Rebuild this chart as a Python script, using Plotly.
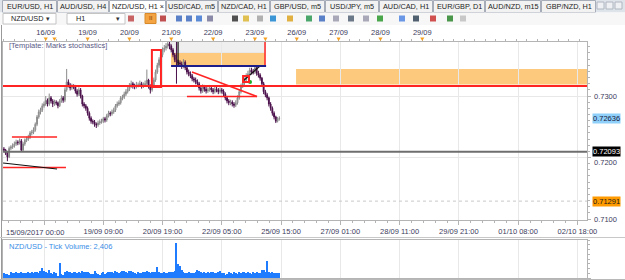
import plotly.graph_objects as go

W, H = 625, 280

# ---------------- data ----------------
bars = list(range(159))
opens = [0.7214,0.7212,0.7207,0.7201,0.7215,0.7217,0.7219,0.7222,0.7225,0.7224,
0.7227,0.7212,0.7222,0.7228,0.7230,0.7233,0.7240,0.7241,0.7245,0.7254,
0.7266,0.7274,0.7277,0.7284,0.7287,0.7293,0.7287,0.7297,0.7292,0.7287,
0.7290,0.7289,0.7284,0.7292,0.7297,0.7293,0.7310,0.7323,0.7318,0.7313,
0.7316,0.7315,0.7308,0.7303,0.7310,0.7300,0.7287,0.7284,0.7280,0.7272,
0.7264,0.7259,0.7258,0.7254,0.7253,0.7256,0.7258,0.7259,0.7263,0.7261,
0.7268,0.7272,0.7271,0.7274,0.7277,0.7284,0.7287,0.7289,0.7297,0.7298,
0.7303,0.7307,0.7311,0.7316,0.7320,0.7316,0.7315,0.7318,0.7318,0.7320,
0.7316,0.7318,0.7320,0.7326,0.7316,0.7310,0.7316,0.7326,0.7339,0.7350,
0.7359,0.7367,0.7375,0.7378,0.7381,0.7385,0.7381,0.7375,0.7367,0.7359,
0.7355,0.7354,0.7352,0.7349,0.7355,0.7346,0.7339,0.7336,0.7333,0.7328,
0.7326,0.7323,0.7320,0.7313,0.7308,0.7315,0.7311,0.7308,0.7310,0.7313,
0.7310,0.7307,0.7311,0.7310,0.7307,0.7310,0.7308,0.7303,0.7297,0.7292,
0.7289,0.7290,0.7287,0.7285,0.7289,0.7297,0.7307,0.7316,0.7321,0.7326,
0.7333,0.7336,0.7342,0.7339,0.7339,0.7346,0.7337,0.7334,0.7329,0.7320,
0.7307,0.7302,0.7297,0.7287,0.7280,0.7272,0.7266,0.7259,0.7263]
closes = [0.7212,0.7207,0.7201,0.7215,0.7217,0.7219,0.7222,0.7225,0.7224,0.7227,
0.7212,0.7222,0.7228,0.7230,0.7233,0.7240,0.7241,0.7245,0.7254,0.7266,
0.7274,0.7277,0.7284,0.7287,0.7293,0.7287,0.7297,0.7292,0.7287,0.7290,
0.7289,0.7284,0.7292,0.7297,0.7293,0.7310,0.7323,0.7318,0.7313,0.7316,
0.7315,0.7308,0.7303,0.7310,0.7300,0.7287,0.7284,0.7280,0.7272,0.7264,
0.7259,0.7258,0.7254,0.7253,0.7256,0.7258,0.7259,0.7263,0.7261,0.7268,
0.7272,0.7271,0.7274,0.7277,0.7284,0.7287,0.7289,0.7297,0.7298,0.7303,
0.7307,0.7311,0.7316,0.7320,0.7316,0.7315,0.7318,0.7318,0.7320,0.7316,
0.7318,0.7320,0.7326,0.7316,0.7310,0.7316,0.7326,0.7339,0.7350,0.7359,
0.7367,0.7375,0.7378,0.7381,0.7385,0.7381,0.7375,0.7367,0.7359,0.7355,
0.7354,0.7352,0.7349,0.7355,0.7346,0.7339,0.7336,0.7333,0.7328,0.7326,
0.7323,0.7320,0.7313,0.7308,0.7315,0.7311,0.7308,0.7310,0.7313,0.7310,
0.7307,0.7311,0.7310,0.7307,0.7310,0.7308,0.7303,0.7297,0.7292,0.7289,
0.7290,0.7287,0.7285,0.7289,0.7297,0.7307,0.7316,0.7321,0.7326,0.7333,
0.7336,0.7342,0.7339,0.7339,0.7346,0.7337,0.7334,0.7329,0.7320,0.7307,
0.7302,0.7297,0.7287,0.7280,0.7272,0.7266,0.7259,0.7263,0.72636]
highs = [0.7217,0.7214,0.7209,0.7218,0.7220,0.7223,0.7226,0.7229,0.7228,0.7231,
0.7230,0.7225,0.7231,0.7234,0.7237,0.7243,0.7245,0.7249,0.7257,0.7269,
0.7278,0.7281,0.7288,0.7291,0.7300,0.7296,0.7304,0.7300,0.7295,0.7294,
0.7293,0.7291,0.7295,0.7301,0.7300,0.7314,0.7344,0.7327,0.7321,0.7320,
0.7319,0.7318,0.7311,0.7314,0.7313,0.7302,0.7290,0.7287,0.7283,0.7275,
0.7267,0.7262,0.7261,0.7257,0.7260,0.7262,0.7263,0.7266,0.7266,0.7271,
0.7276,0.7275,0.7278,0.7281,0.7287,0.7291,0.7293,0.7300,0.7302,0.7307,
0.7311,0.7315,0.7321,0.7325,0.7323,0.7320,0.7323,0.7322,0.7325,0.7323,
0.7322,0.7325,0.7343,0.7328,0.7319,0.7320,0.7330,0.7343,0.7354,0.7363,
0.7371,0.7379,0.7383,0.7386,0.7392,0.7389,0.7384,0.7378,0.7370,0.7388,
0.7359,0.7358,0.7356,0.7360,0.7358,0.7349,0.7343,0.7340,0.7336,0.7331,
0.7330,0.7327,0.7323,0.7316,0.7319,0.7318,0.7315,0.7314,0.7318,0.7316,
0.7313,0.7316,0.7315,0.7313,0.7314,0.7313,0.7311,0.7306,0.7300,0.7295,
0.7294,0.7293,0.7290,0.7293,0.7301,0.7311,0.7320,0.7326,0.7330,0.7337,
0.7341,0.7346,0.7346,0.7344,0.7349,0.7348,0.7341,0.7337,0.7331,0.7323,
0.7310,0.7305,0.7299,0.7290,0.7283,0.7275,0.7268,0.7266,0.7267]
lows = [0.7209,0.7204,0.7194,0.7199,0.7212,0.7214,0.7216,0.7219,0.7220,0.7221,
0.7209,0.7210,0.7219,0.7225,0.7227,0.7230,0.7236,0.7238,0.7242,0.7251,
0.7263,0.7270,0.7274,0.7281,0.7284,0.7283,0.7284,0.7288,0.7282,0.7284,
0.7285,0.7280,0.7282,0.7289,0.7289,0.7290,0.7307,0.7314,0.7309,0.7310,
0.7311,0.7304,0.7299,0.7300,0.7296,0.7283,0.7280,0.7276,0.7268,0.7260,
0.7255,0.7254,0.7250,0.7248,0.7250,0.7253,0.7255,0.7256,0.7257,0.7258,
0.7265,0.7267,0.7268,0.7271,0.7274,0.7281,0.7284,0.7286,0.7293,0.7295,
0.7300,0.7304,0.7308,0.7313,0.7312,0.7311,0.7312,0.7314,0.7315,0.7312,
0.7313,0.7315,0.7317,0.7312,0.7304,0.7307,0.7313,0.7323,0.7336,0.7346,
0.7355,0.7363,0.7371,0.7374,0.7377,0.7376,0.7371,0.7363,0.7355,0.7320,
0.7349,0.7347,0.7344,0.7345,0.7342,0.7335,0.7332,0.7329,0.7324,0.7322,
0.7319,0.7316,0.7309,0.7304,0.7305,0.7307,0.7304,0.7305,0.7307,0.7306,
0.7303,0.7304,0.7306,0.7303,0.7304,0.7304,0.7299,0.7293,0.7288,0.7285,
0.7285,0.7283,0.7281,0.7282,0.7286,0.7294,0.7304,0.7313,0.7318,0.7323,
0.7330,0.7333,0.7335,0.7335,0.7336,0.7333,0.7330,0.7325,0.7316,0.7303,
0.7298,0.7293,0.7283,0.7276,0.7268,0.7262,0.7256,0.7257,0.7260]
volumes = [2600,2100,1900,1500,3100,2800,2600,2900,2700,2400,
3300,2700,2500,2800,3000,2600,2900,2700,3400,3100,
2800,3600,5200,3900,3000,2600,4100,2700,2300,3000,
2500,1300,7900,2200,1800,3300,3600,2900,3100,2800,
3000,3400,2700,3100,2600,3800,3200,2900,3300,2500,
2200,1900,3600,2400,2100,1500,2600,3000,2300,2700,
2900,3200,3000,2500,3600,3400,2800,3100,3900,3700,
3300,2400,3800,3500,3000,2600,2300,3100,2800,2500,
2900,3200,3600,3000,2700,3400,3100,3300,5800,3000,
2700,2600,3100,2800,2400,3000,3200,2900,3600,18500,
7400,6100,4300,3200,2800,2600,3000,2500,2400,2700,
3100,4100,3600,2900,2500,3000,2700,3300,2600,2900,
3200,2800,2500,3100,3500,2700,2400,1400,1900,3300,
2600,2300,2900,2500,2100,3000,2700,3300,3100,2800,
3400,2500,2200,3000,2700,2900,2400,2600,4200,4300,
3100,9000,2900,2500,3100,2700,2600,2400,2406]

price_ticks = [0.71, 0.72, 0.73]
price_tick_text = ["0.7100", "0.7200", "0.7300"]
time_ticks = [23, 57, 91, 125, 159, 193, 227, 261, 295, 329]
time_tick_text = ["", "19/09 09:00", "20/09 19:00", "22/09 05:00", "25/09 15:00",
                  "27/09 01:00", "28/09 11:00", "29/09 21:00", "01/10 08:00", "02/10 18:00"]
first_time_label = "15/09/2017 00:00"
day_ticks = [24, 48, 72, 96, 120, 144, 168, 192, 216, 240]
day_labels = ["16/09", "19/09", "20/09", "21/09", "22/09", "23/09", "26/09", "27/09", "28/09", "29/09"]
day_markers = [24, 29, 48, 72, 96, 120, 144, 150, 168, 192, 216, 240]

red_level = 0.73163
gray_level = 0.72093
dotted_level = 0.71291
bid_price = 0.72636
# drawings: (bar0, price0, bar1, price1)
red_segments = [(4.6, 0.72333, 30.5, 0.72333), (-0.5, 0.71837, 35.6, 0.71837),
                (105.0, 0.72992, 145.2, 0.72992), (107.9, 0.73390, 145.2, 0.72992),
                (149.8, 0.7390, 149.8, 0.73488)]
black_segments = [(-0.5, 0.71911, 30.5, 0.71813), (99.9, 0.7390, 99.9, 0.73488),
                  (137.2, 0.73244, 146.9, 0.73488)]
blue_segment = (95.9, 0.73488, 150.4, 0.73488)
red_boxes = [(84.9, 0.73748, 90.1, 0.73146), (137.2, 0.73325, 140.6, 0.73228)]
gray_zone = (95.9, 0.7390, 149.8, 0.73699)
orange_zones = [(95.9, 0.73699, 149.8, 0.73488), (167.6, 0.73439, 340, 0.73189)]
green_point = (141.2, 0.73228)

volume_title = "NZD/USD - Tick Volume: 2,406"
template_text = "[Template: Marks stochastics]"
tabs = [("EUR/USD, H1", 2, 57), ("AUD/USD, H4", 57, 109), ("NZD/USD, H1 ×", 109, 166),
        ("USD/CAD, m5", 166, 218), ("NZD/CAD, H1", 218, 270), ("GBP/USD, m5", 270, 325),
        ("USD/JPY, m5", 325, 379), ("AUD/CAD, H1", 379, 433), ("EUR/GBP, D1", 433, 485),
        ("AUD/NZD, m15", 485, 541), ("GBP/NZD, H1", 541, 596)]

# ---------------- layout helpers ----------------
X0, X1 = -0.52, 334.5
Y0, Y1 = 0.70984, 0.73878
FONT = "Liberation Sans"
AX_COL = "#3c3c5c"


def px(x):
    return x / W


def py(y):
    return 1 - y / H


fig = go.Figure()
fig.add_trace(go.Candlestick(
    x=bars, open=opens, high=highs, low=lows, close=closes,
    increasing=dict(line=dict(color="#8a8a8a", width=1), fillcolor="#d6d6d6"),
    decreasing=dict(line=dict(color="#4a0f4a", width=1), fillcolor="#4a0f4a"),
    whiskerwidth=0, showlegend=False, hoverinfo="skip", xaxis="x", yaxis="y"))
fig.add_trace(go.Scatter(x=day_ticks, y=[closes[0]] * len(day_ticks), xaxis="x2", yaxis="y",
                         mode="markers", marker=dict(opacity=0), showlegend=False, hoverinfo="skip"))
fig.add_trace(go.Scatter(x=[green_point[0]], y=[green_point[1]], mode="markers",
                         marker=dict(color="#22aa22", size=4), showlegend=False, hoverinfo="skip"))
fig.add_trace(go.Bar(x=bars, y=volumes, xaxis="x3", yaxis="y3", width=0.6,
                     marker=dict(color="#1f7cff", line=dict(width=0)), showlegend=False, hoverinfo="skip"))

shapes = []
# chart drawings
x0, y0, x1, y1 = gray_zone
shapes.append(dict(type="rect", xref="x", yref="y", x0=x0, x1=x1, y0=y0, y1=y1,
                   fillcolor="#efefef", line=dict(color="#e0e0e0", width=1), layer="below"))
for (a, b, c, d) in orange_zones:
    shapes.append(dict(type="rect", xref="x", yref="y", x0=a, x1=c, y0=b, y1=d,
                       fillcolor="#fdc97c", line=dict(width=0), layer="below"))
shapes.append(dict(type="line", xref="paper", yref="y", x0=px(3), x1=px(587), y0=red_level, y1=red_level,
                   line=dict(color="#ff2424", width=2)))
shapes.append(dict(type="line", xref="paper", yref="y", x0=px(3), x1=px(587), y0=gray_level, y1=gray_level,
                   line=dict(color="#6e6e6e", width=2)))
shapes.append(dict(type="line", xref="paper", yref="y", x0=px(3), x1=px(587), y0=dotted_level, y1=dotted_level,
                   line=dict(color="#c8c8c8", width=1, dash="dot")))
for (a, b, c, d) in red_segments:
    shapes.append(dict(type="line", xref="x", yref="y", x0=a, y0=b, x1=c, y1=d,
                       line=dict(color="#ff2424", width=1.5)))
for (a, b, c, d) in black_segments:
    shapes.append(dict(type="line", xref="x", yref="y", x0=a, y0=b, x1=c, y1=d,
                       line=dict(color="#111111", width=1.2)))
a, b, c, d = blue_segment
shapes.append(dict(type="line", xref="x", yref="y", x0=a, y0=b, x1=c, y1=d,
                   line=dict(color="#1c1c8a", width=2)))
for (a, b, c, d) in red_boxes:
    shapes.append(dict(type="rect", xref="x", yref="y", x0=a, y0=b, x1=c, y1=d,
                       line=dict(color="#ff2424", width=2)))
# orange day markers on the top time scale
for d in day_markers:
    shapes.append(dict(type="path", xref="x", yref="paper",
                       path=f"M {d - 1.2},{py(37.5)} L {d + 1.2},{py(37.5)} L {d},{py(41)} Z",
                       fillcolor="#f5a020", line=dict(width=0)))

# window chrome
def prect(x0, y0, x1, y1, fill, line=None, lw=1):
    return dict(type="rect", xref="paper", yref="paper", x0=px(x0), x1=px(x1), y0=py(y1), y1=py(y0),
                fillcolor=fill, line=dict(color=line or fill, width=lw if line else 0), layer="below")


shapes.append(prect(0, 0, 625, 12.5, "#dfe4eb"))
for (label, a, b) in tabs:
    fill = "#ffffff" if "×" in label else "#f2f2f2"
    shapes.append(prect(a + 0.5, 0.5, b - 0.5, 12.5, fill, "#a6adb8"))
shapes.append(prect(0, 12.5, 625, 25, "#f7f7f7"))
shapes.append(prect(3, 13.5, 56, 24, "#ffffff", "#c4c4c4"))
shapes.append(prect(67, 13.5, 125, 24, "#ffffff", "#c4c4c4"))
shapes.append(prect(145, 13.5, 156, 23.5, "#f4a442", "#d88a2a"))
icons = [(128, "#c86464"), (160, "#c05050"), (176, "#5a80c8"), (186, "#5a80c8"), (196, "#5a8ad6"),
         (207, "#8a8aa8"), (232, "#505050"), (243, "#e0c050"), (257, "#b0b0b0"), (270, "#3c96d6"),
         (287, "#e0b040"), (306, "#4aa66a"), (319, "#5a80c8"), (333, "#a8a8b8"), (348, "#6a7888"),
         (363, "#a8a8b8"), (377, "#4aa64a"), (399, "#6a96e6"), (413, "#506070"), (430, "#d05050"),
         (447, "#4a964a"), (460, "#c8c8c8")]
for (ix, col) in icons:
    shapes.append(prect(ix, 15.5, ix + 6, 21.5, col))
for bx in (597, 606, 615):
    shapes.append(prect(bx, 2, bx + 7, 9, "#eef0f3", "#b0b6c0"))
shapes.append(dict(type="line", xref="paper", yref="paper", x0=px(1.5), x1=px(1.5), y0=py(279), y1=py(25),
                   line=dict(color="#9a9a9a", width=1)))
shapes.append(dict(type="line", xref="paper", yref="paper", x0=0, x1=1, y0=py(237.5), y1=py(237.5),
                   line=dict(color="#c8c8c8", width=1)))
shapes.append(dict(type="line", xref="paper", yref="paper", x0=0, x1=1, y0=py(279.5), y1=py(279.5),
                   line=dict(color="#b8b8b8", width=1)))

ann = []
tf = dict(family=FONT, size=7.3, color="#1e1e1e")
for (label, a, b) in tabs:
    ann.append(dict(text=label, x=px((a + b) / 2), y=py(6.5), xref="paper", yref="paper",
                    showarrow=False, font=tf, xanchor="center", yanchor="middle"))
ann.append(dict(text="NZD/USD", x=px(9), y=py(18.8), xref="paper", yref="paper", showarrow=False,
                font=tf, xanchor="left", yanchor="middle"))
ann.append(dict(text="H1", x=px(74), y=py(18.8), xref="paper", yref="paper", showarrow=False,
                font=tf, xanchor="left", yanchor="middle"))
for ax_ in (48, 118):
    ann.append(dict(text="▾", x=px(ax_), y=py(18.8), xref="paper", yref="paper", showarrow=False,
                    font=dict(family="DejaVu Sans", size=7, color="#333333"), xanchor="center", yanchor="middle"))
ann.append(dict(text="II", x=px(150.5), y=py(18.5), xref="paper", yref="paper", showarrow=False,
                font=dict(family=FONT, size=6, color="#7a3a00"), xanchor="center", yanchor="middle"))
ann.append(dict(text=template_text, x=px(7), y=py(46), xref="paper", yref="paper", showarrow=False,
                font=dict(family=FONT, size=7.5, color="#5a5a86"), xanchor="left", yanchor="middle"))
ann.append(dict(text=first_time_label, x=px(4), y=py(232), xref="paper", yref="paper", showarrow=False,
                font=dict(family=FONT, size=7.5, color=AX_COL), xanchor="left", yanchor="middle"))
ann.append(dict(text=volume_title, x=px(7), y=py(246), xref="paper", yref="paper", showarrow=False,
                font=dict(family=FONT, size=7.5, color="#3a8ee6"), xanchor="left", yanchor="middle"))
# price scale labels (0.7200 nudged below the level marker as in the terminal)
for (val, txt, shift) in zip(price_ticks, price_tick_text, [0, -5, 0]):
    ann.append(dict(text=txt, x=px(592), y=val, xref="paper", yref="y", showarrow=False, yshift=shift,
                    font=dict(family=FONT, size=7.5, color=AX_COL), xanchor="left", yanchor="middle"))
for (val, bg, fg) in [(bid_price, "#8fd0fa", "#1a1a3a"), (gray_level, "#000000", "#ffffff"),
                      (dotted_level, "#ff9a00", "#1a1a1a")]:
    ann.append(dict(text=f"{val:.5f}", x=px(591.5), y=val, xref="paper", yref="y", showarrow=False,
                    font=dict(family=FONT, size=7.5, color=fg), bgcolor=bg, borderpad=0,
                    xanchor="left", yanchor="middle"))

axfont = dict(family=FONT, size=7.5, color=AX_COL)
LINE = "#b4b4b4"
GRID = "#e8e8e8"
fig.update_layout(
    width=W, height=H, autosize=False, margin=dict(l=0, r=0, t=0, b=0, pad=0),
    paper_bgcolor="#ffffff", plot_bgcolor="#ffffff", showlegend=False, bargap=0,
    shapes=shapes, annotations=ann,
    xaxis=dict(domain=[px(3), px(587)], range=[X0, X1], anchor="y", tickmode="array", automargin=False,
               tickvals=time_ticks, ticktext=time_tick_text, ticks="outside", ticklen=4, tickcolor=LINE,
               showgrid=True, gridcolor=GRID, showline=True, linecolor=LINE, zeroline=False,
               tickfont=axfont, rangeslider=dict(visible=False),
               minor=dict(ticks="outside", ticklen=2, tick0=23, dtick=6.8, tickcolor=LINE, showgrid=False)),
    xaxis2=dict(overlaying="x", side="top", anchor="y", range=[X0, X1], tickmode="array", automargin=False,
                tickvals=day_ticks, ticktext=day_labels, ticks="outside", ticklen=3, tickcolor=LINE,
                showgrid=False, showline=True, linecolor=LINE, zeroline=False, tickfont=axfont,
                minor=dict(ticks="outside", ticklen=2, tick0=0, dtick=6, tickcolor=LINE, showgrid=False)),
    yaxis=dict(domain=[py(220), py(42)], range=[Y0, Y1], anchor="x", side="right", tickmode="array",
               automargin=False, tickvals=price_ticks, showticklabels=False, ticks="outside", ticklen=3,
               tickcolor=LINE, showgrid=True, gridcolor=GRID, showline=True, linecolor=LINE, mirror=True,
               zeroline=False,
               minor=dict(ticks="outside", ticklen=2, tick0=0.71, dtick=0.001, tickcolor=LINE, showgrid=False)),
    xaxis3=dict(domain=[px(3), px(587)], range=[X0, X1], anchor="y3", tickmode="array", automargin=False,
                tickvals=time_ticks, showticklabels=False, ticks="", showgrid=True, gridcolor=GRID,
                showline=True, linecolor=LINE, mirror=True, zeroline=False),
    yaxis3=dict(domain=[py(278), py(240)], range=[0, 20000], anchor="x3", side="right", tickmode="array",
                automargin=False, tickvals=[0], ticktext=["0"], ticks="outside", ticklen=3, tickcolor=LINE,
                showgrid=False, showline=True, linecolor=LINE, mirror=True, zeroline=False, tickfont=axfont,
                minor=dict(ticks="outside", ticklen=2, tick0=0, dtick=2500, tickcolor=LINE, showgrid=False)),
)

fig.write_html("out.html")
